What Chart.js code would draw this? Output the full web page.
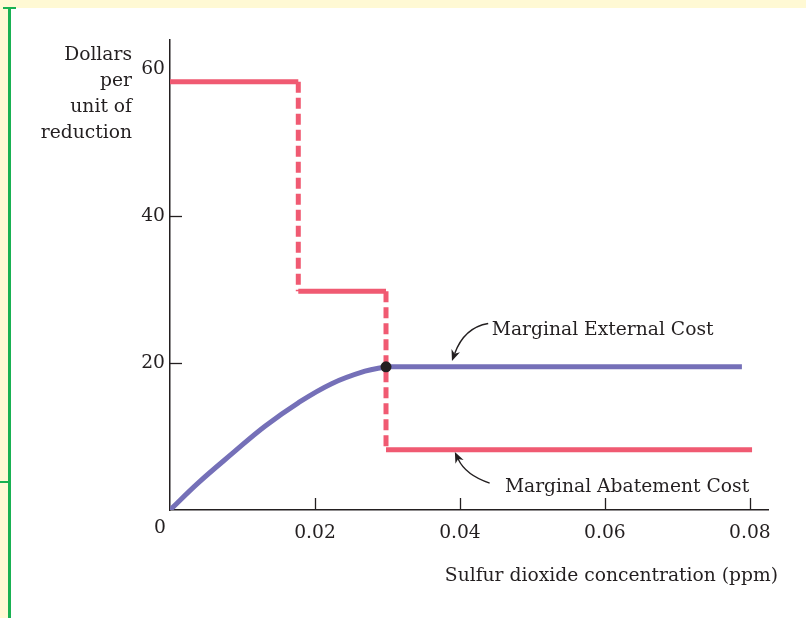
<!DOCTYPE html>
<html>
<head>
<meta charset="utf-8">
<script src="https://cdn.jsdelivr.net/npm/chart.js@4/dist/chart.umd.min.js"></script>
<style>
html,body{margin:0;padding:0;background:#fff;}
#wrap{width:806px;height:618px;position:relative;}
</style>
</head>
<body>
<div id="wrap"><canvas id="c" width="806" height="618"></canvas></div>
<script>
// ---- data ----
const xTicks = [0.02, 0.04, 0.06, 0.08];
const xTickLabels = ['0.02', '0.04', '0.06', '0.08'];
const yTicks = [20, 40, 60];
const yTickLabels = ['20', '40', '60'];
const yTickMarks = [20, 40];

// Marginal abatement cost (step function)
const macStepsX = [0, 0.0177, 0.0298, 0.0803];   // step boundaries
const macLevels = [58.3, 29.8, 8.2];              // level on each step

// Marginal external cost: rising curve, then flat
const mecCurveX = [0, 0.0039, 0.0086, 0.0131, 0.0177, 0.0223, 0.0269, 0.0298];
const mecCurveY = [0, 3.7, 7.7, 11.4, 14.6, 17.2, 18.9, 19.5];
const mecFlatX = [0.0298, 0.0789];
const mecFlatY = [19.5, 19.5];

// equilibrium point
const eqX = [0.0298];
const eqY = [19.5];

const yTitleLines = ['Dollars', 'per', 'unit of', 'reduction'];
const xTitle = 'Sulfur dioxide concentration (ppm)';
const labelMEC = 'Marginal External Cost';
const labelMAC = 'Marginal Abatement Cost';

// ---- build datasets ----
const RED = '#f05a72';
const BLUE = '#7570b8';
const INK = '#231f20';
const FONT = '"DejaVu Serif", "Liberation Serif", serif';
const FS = 18.7;

const macSolid = [];
macLevels.forEach((lv, i) => {
  if (i > 0) macSolid.push({x: macStepsX[i], y: null});
  macSolid.push({x: macStepsX[i], y: lv});
  macSolid.push({x: macStepsX[i + 1], y: lv});
});
const macDashed = [];
for (let i = 1; i < macLevels.length; i++) {
  if (i > 1) macDashed.push({x: macStepsX[i], y: null});
  macDashed.push({x: macStepsX[i], y: macLevels[i - 1]});
  macDashed.push({x: macStepsX[i], y: macLevels[i]});
}
const mecCurve = mecCurveX.map((x, i) => ({x, y: mecCurveY[i]}));
const mecFlat = mecFlatX.map((x, i) => ({x, y: mecFlatY[i]}));
const eqData = eqX.map((x, i) => ({x, y: eqY[i]}));

// ---- decoration / annotation plugin ----
const deco = {
  id: 'deco',
  beforeDraw(chart) {
    const ctx = chart.ctx;
    ctx.save();
    ctx.fillStyle = '#fff';
    ctx.fillRect(0, 0, chart.width, chart.height);
    ctx.fillStyle = '#fff9d4';
    ctx.fillRect(0, 0, chart.width, 8);
    ctx.fillRect(0, 0, 8, chart.height);
    ctx.fillStyle = '#19b152';
    ctx.fillRect(8, 8, 3, chart.height - 8);
    ctx.fillRect(3, 7, 13, 2);
    ctx.fillRect(0, 481, 9, 2);
    ctx.restore();
  },
  afterDraw(chart) {
    const ctx = chart.ctx;
    const xs = chart.scales.x, ys = chart.scales.y;
    const ca = chart.chartArea;
    ctx.save();
    // inner tick marks
    ctx.strokeStyle = INK;
    ctx.lineWidth = 1.3;
    yTickMarks.forEach(v => {
      const p = Math.round(ys.getPixelForValue(v)) + 0.5;
      ctx.beginPath(); ctx.moveTo(ca.left, p); ctx.lineTo(ca.left + 12, p); ctx.stroke();
    });
    xTicks.forEach(v => {
      const p = Math.round(xs.getPixelForValue(v)) + 0.5;
      ctx.beginPath(); ctx.moveTo(p, ca.bottom); ctx.lineTo(p, ca.bottom - 12); ctx.stroke();
    });
    // text
    ctx.fillStyle = INK;
    ctx.font = FS + 'px ' + FONT;
    ctx.textBaseline = 'middle';
    ctx.textAlign = 'center';
    ctx.fillText('0', ca.left - 10, ca.bottom + 18);
    ctx.textAlign = 'right';
    yTitleLines.forEach((t, i) => ctx.fillText(t, 132, 55 + i * 26));
    ctx.fillText(xTitle, 778, 576);
    ctx.textAlign = 'left';
    ctx.fillText(labelMEC, xs.getPixelForValue(0.0444), ys.getPixelForValue(24.5));
    ctx.fillText(labelMAC, xs.getPixelForValue(0.0462), ys.getPixelForValue(3.1));
    // arrows
    function arrow(x0, y0, cx, cy, x1, y1) {
      ctx.strokeStyle = INK; ctx.fillStyle = INK; ctx.lineWidth = 1.4;
      const ang = Math.atan2(y1 - cy, x1 - cx);
      const L = 11, W = 4.5;
      const bx = x1 - L * 0.7 * Math.cos(ang), by = y1 - L * 0.7 * Math.sin(ang);
      ctx.beginPath(); ctx.moveTo(x0, y0); ctx.quadraticCurveTo(cx, cy, bx, by); ctx.stroke();
      ctx.beginPath();
      ctx.moveTo(x1, y1);
      ctx.lineTo(x1 - L * Math.cos(ang) + W * Math.sin(ang), y1 - L * Math.sin(ang) - W * Math.cos(ang));
      ctx.lineTo(x1 - L * 0.7 * Math.cos(ang), y1 - L * 0.7 * Math.sin(ang));
      ctx.lineTo(x1 - L * Math.cos(ang) - W * Math.sin(ang), y1 - L * Math.sin(ang) + W * Math.cos(ang));
      ctx.closePath(); ctx.fill();
    }
    const P = (x, y) => [xs.getPixelForValue(x), ys.getPixelForValue(y)];
    let s = P(0.0439, 25.4), t = P(0.0389, 20.3);
    arrow(s[0], s[1], s[0] - 24, s[1] + 4, t[0], t[1]);
    s = P(0.0441, 3.67); t = P(0.0393, 7.9);
    arrow(s[0], s[1], s[0] - 24, s[1] - 8, t[0], t[1]);
    ctx.restore();
  }
};

new Chart(document.getElementById('c'), {
  type: 'line',
  data: {
    datasets: [
      {label: 'eq', data: eqData, showLine: false, pointRadius: 5.5, pointBackgroundColor: INK, pointBorderColor: INK, pointBorderWidth: 0, order: 0},
      {label: 'mac', data: macSolid, spanGaps: false, borderColor: RED, borderWidth: 5, pointRadius: 0, borderCapStyle: 'butt', tension: 0, order: 1},
      {label: 'macDash', data: macDashed, spanGaps: false, borderColor: RED, borderWidth: 5, borderDash: [11, 5], pointRadius: 0, borderCapStyle: 'butt', tension: 0, order: 1},
      {label: 'mecCurve', data: mecCurve, borderColor: BLUE, borderWidth: 5, pointRadius: 0, tension: 0.4, borderCapStyle: 'butt', borderJoinStyle: 'round', order: 2},
      {label: 'mecFlat', data: mecFlat, borderColor: BLUE, borderWidth: 5, pointRadius: 0, tension: 0, borderCapStyle: 'butt', order: 2}
    ]
  },
  options: {
    responsive: false,
    animation: false,
    events: [],
    parsing: {xAxisKey: 'x', yAxisKey: 'y'},
    layout: {padding: {left: 0, right: 38, top: 40, bottom: 0}},
    plugins: {legend: {display: false}, tooltip: {enabled: false}},
    scales: {
      x: {
        type: 'linear', min: 0, max: 0.0825,
        grid: {display: false, drawTicks: false},
        border: {display: true, color: INK, width: 1.5},
        afterBuildTicks: s => { s.ticks = xTicks.map(v => ({value: v})); },
        afterFit: s => { s.height = 108; },
        ticks: {
          padding: 12, color: INK, font: {family: FONT, size: FS},
          callback: (v) => { const i = xTicks.indexOf(v); return i >= 0 ? xTickLabels[i] : ''; }
        }
      },
      y: {
        type: 'linear', min: 0, max: 64,
        grid: {display: false, drawTicks: false},
        border: {display: true, color: INK, width: 1.5},
        afterBuildTicks: s => { s.ticks = yTicks.map(v => ({value: v})); },
        afterFit: s => { s.width = 170; },
        ticks: {
          padding: 5, color: INK, font: {family: FONT, size: FS},
          callback: (v) => { const i = yTicks.indexOf(v); return i >= 0 ? yTickLabels[i] : ''; }
        }
      }
    }
  },
  plugins: [deco]
});
</script>
</body>
</html>
